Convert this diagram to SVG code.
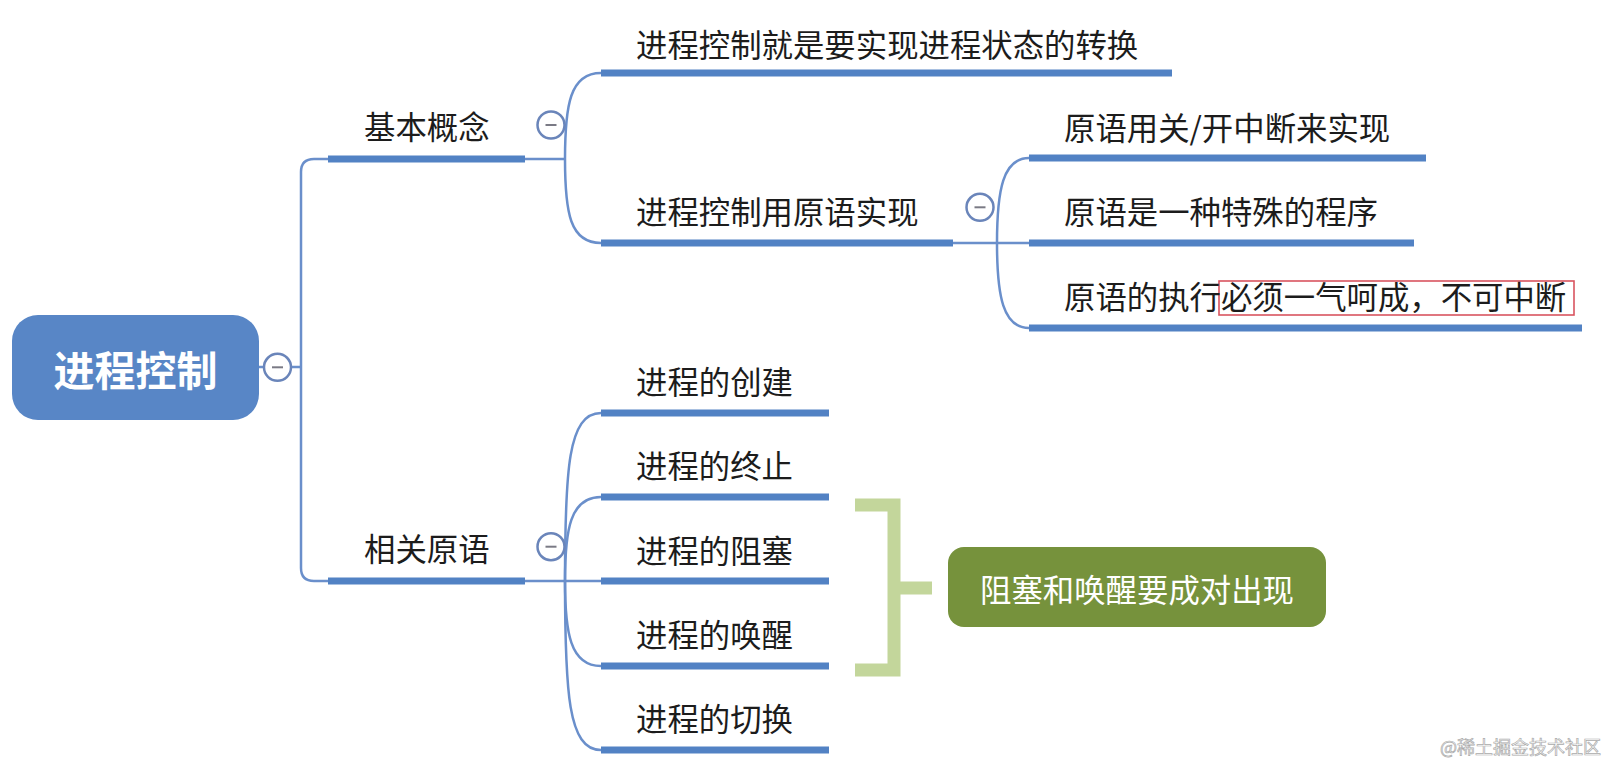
<svg xmlns="http://www.w3.org/2000/svg" width="1608" height="764" viewBox="0 0 1608 764">
<defs>
<style>
.t{font-family:"Noto Sans CJK SC","Noto Sans",sans-serif;font-size:31.4px;fill:#1c1c1c;}
.bar{stroke:#5282c4;stroke-width:7;fill:none;}
.ln{stroke:#6a8fcb;stroke-width:2.5;fill:none;}
.cc{fill:#fff;stroke:#6a85ba;stroke-width:2.5;}
.mn{stroke:#7a7a85;stroke-width:2;}
</style>
</defs>
<rect width="1608" height="764" fill="#fff"/>
<g id="connectors">
<path class="ln" d="M259 367 L301 367"/>
<path class="ln" d="M328 159 L314 159 Q301 159 301 172 L301 568 Q301 581 314 581 L328 581"/>
<path class="ln" d="M525 159 L565 159"/>
<path class="ln" d="M565 159 C565 105 570 73 601 73"/>
<path class="ln" d="M565 159 C565 213 570 243 601 243"/>
<path class="ln" d="M525 581 L601 581"/>
<path class="ln" d="M565 581 C565 470 568 413 601 413"/>
<path class="ln" d="M565 581 C565 530 570 497 601 497"/>
<path class="ln" d="M565 581 C565 632 570 666 601 666"/>
<path class="ln" d="M565 581 C565 692 568 750 601 750"/>
<path class="ln" d="M953 243 L1029 243"/>
<path class="ln" d="M997 243 C997 190 1003 158 1029 158"/>
<path class="ln" d="M997 243 C997 296 1003 328 1029 328"/>
</g>
<g id="root">
<rect x="12" y="315" width="247" height="105" rx="26" fill="#5886c6"/>
<text x="135.5" y="386" text-anchor="middle" font-family="Noto Sans CJK SC, Noto Sans, sans-serif" font-size="41" font-weight="bold" fill="#fff">进程控制</text>
<circle class="cc" cx="277.5" cy="367.3" r="13.5"/><line class="mn" x1="272" y1="367.3" x2="283" y2="367.3"/>
</g>
<g id="n-basic">
<line class="bar" x1="328" y1="159" x2="525" y2="159"/>
<text class="t" x="364" y="138.5">基本概念</text>
<circle class="cc" cx="551" cy="125" r="13.5"/><line class="mn" x1="545.5" y1="125" x2="556.5" y2="125"/>
</g>
<g id="n-basic-1">
<line class="bar" x1="601" y1="73" x2="1172" y2="73"/>
<text class="t" x="636" y="57">进程控制就是要实现进程状态的转换</text>
</g>
<g id="n-basic-2">
<line class="bar" x1="601" y1="243" x2="953" y2="243"/>
<text class="t" x="636" y="224">进程控制用原语实现</text>
<circle class="cc" cx="980" cy="207.3" r="13.5"/><line class="mn" x1="974.5" y1="207.3" x2="985.5" y2="207.3"/>
</g>
<g id="n-prim-1">
<line class="bar" x1="1029" y1="158" x2="1426" y2="158"/>
<text class="t" x="1064" y="140">原语用关/开中断来实现</text>
</g>
<g id="n-prim-2">
<line class="bar" x1="1029" y1="243" x2="1414" y2="243"/>
<text class="t" x="1064" y="224">原语是一种特殊的程序</text>
</g>
<g id="n-prim-3">
<line class="bar" x1="1029" y1="328" x2="1582" y2="328"/>
<rect x="1219" y="281" width="355" height="34" fill="none" stroke="#d9545f" stroke-width="1.6"/>
<text class="t" x="1064" y="309">原语的执行必须一气呵成，不可中断</text>
</g>
<g id="n-related">
<line class="bar" x1="328" y1="581" x2="525" y2="581"/>
<text class="t" x="364" y="561">相关原语</text>
<circle class="cc" cx="551" cy="546.7" r="13.5"/><line class="mn" x1="545.5" y1="546.7" x2="556.5" y2="546.7"/>
</g>
<g id="n-create">
<line class="bar" x1="601" y1="413" x2="829" y2="413"/>
<text class="t" x="636" y="393.5">进程的创建</text>
</g>
<g id="n-terminate">
<line class="bar" x1="601" y1="497" x2="829" y2="497"/>
<text class="t" x="636" y="478">进程的终止</text>
</g>
<g id="n-block">
<line class="bar" x1="601" y1="581" x2="829" y2="581"/>
<text class="t" x="636" y="562.5">进程的阻塞</text>
</g>
<g id="n-wakeup">
<line class="bar" x1="601" y1="666" x2="829" y2="666"/>
<text class="t" x="636" y="647">进程的唤醒</text>
</g>
<g id="n-switch">
<line class="bar" x1="601" y1="750" x2="829" y2="750"/>
<text class="t" x="636" y="731">进程的切换</text>
</g>
<g id="bracket">
<path d="M855 505 L894 505 L894 670 L855 670 M894 588 L932 588" fill="none" stroke="#c3d69b" stroke-width="13"/>
</g>
<g id="n-summary">
<rect x="948" y="547" width="378" height="80" rx="16" fill="#76923c"/>
<text x="1137" y="602" text-anchor="middle" font-family="Noto Sans CJK SC, Noto Sans, sans-serif" font-size="31.4" fill="#fff">阻塞和唤醒要成对出现</text>
</g>
<text x="1440" y="754" font-family="Noto Sans CJK SC, Noto Sans, sans-serif" font-size="18" fill="#fff" stroke="#aaa" stroke-width="0.7">@稀土掘金技术社区</text>
</svg>
